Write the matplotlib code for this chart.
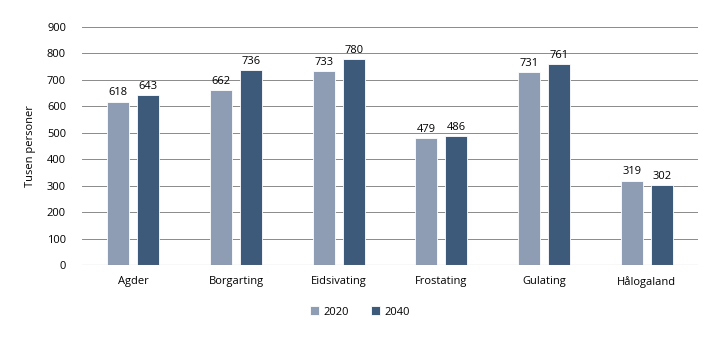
import matplotlib.pyplot as plt
import numpy as np

plt.rcParams['font.family'] = ['Open Sans', 'DejaVu Sans']

regions = ['Agder', 'Borgarting', 'Eidsivating', 'Frostating', 'Gulating', 'Hålogaland']
pop_2020 = [618, 662, 733, 479, 731, 319]
pop_2040 = [643, 736, 780, 486, 761, 302]

c2020 = '#8f9db4'
c2040 = '#3e5a7a'

fig = plt.figure(figsize=(7.19, 3.41), dpi=100)
ax = fig.add_axes([82 / 719, 1 - 265 / 341, 616 / 719, 238 / 341])

x = np.arange(len(regions))
w = 0.215
off = 0.146
b1 = ax.bar(x - off, pop_2020, w, color=c2020, edgecolor='white', linewidth=0.6,
            label='2020', zorder=3)
b2 = ax.bar(x + off, pop_2040, w, color=c2040, edgecolor='white', linewidth=0.6,
            label='2040', zorder=3)

for bars in (b1, b2):
    for r in bars:
        ax.text(r.get_x() + r.get_width() / 2, r.get_height() + 12,
                str(int(r.get_height())), ha='center', va='bottom', fontsize=8)

ax.set_xlim(-0.5, len(regions) - 0.5)
ax.set_ylim(0, 900)
ax.set_yticks(range(0, 901, 100))
ax.set_xticks(x)
ax.set_xticklabels(regions, fontsize=8)
ax.tick_params(axis='y', labelsize=8, length=0, pad=11.5)
ax.tick_params(axis='x', length=0, pad=8)
ax.yaxis.grid(True, color='#8a8a8a', linewidth=0.7, zorder=0)
for s in ax.spines.values():
    s.set_visible(False)
ax.axhline(0, color='#8a8a8a', linewidth=0.8, zorder=4)
ax.set_ylabel('Tusen personer', fontsize=8, labelpad=8)

fig.legend(handles=[b1, b2], loc='center', bbox_to_anchor=(360 / 719, 1 - 312 / 341),
           ncol=2, frameon=False, fontsize=8, handlelength=0.8, handleheight=0.8,
           columnspacing=2.0, handletextpad=0.4)

fig.savefig('out.png', dpi=100)
